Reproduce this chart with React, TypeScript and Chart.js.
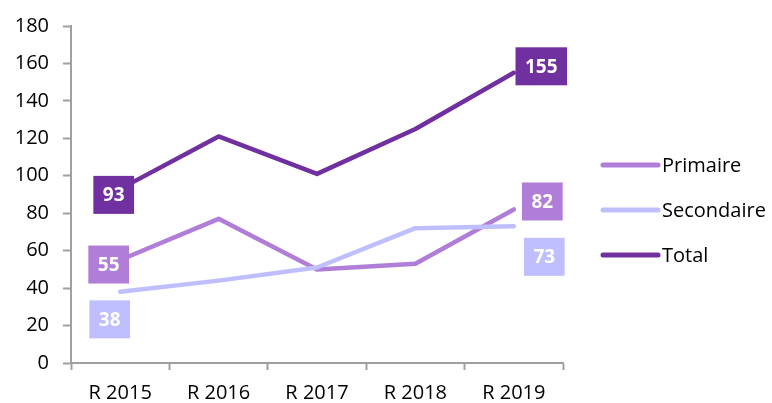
import React, { useEffect, useRef } from "react";
import { Chart, registerables } from "chart.js";

Chart.register(...registerables);

const categories = ["R 2015", "R 2016", "R 2017", "R 2018", "R 2019"];
const primaire = [55, 77, 50, 53, 82];
const secondaire = [38, 44, 51, 72, 73];
const total = [93, 121, 101, 125, 155];
const yTicks = { min: 0, max: 180, step: 20 };

const seriesNames = ["Primaire", "Secondaire", "Total"];
const seriesColors = ["#B07ED8", "#BFBFFF", "#7030A0"];

// label box offsets (first point, last point) relative to the point, px
const labelOffsets = [
  [[-11.5, 4.5], [28.5, -8]],
  [[-10.5, 27.5], [30.5, 30.5]],
  [[-6.5, 6], [27.5, -6.5]],
];

const FONT = '"Open Sans", "Noto Sans", sans-serif';

const boxLabels = {
  id: "boxLabels",
  afterDatasetsDraw(chart: any) {
    const ctx = chart.ctx;
    ctx.save();
    chart.data.datasets.forEach((ds: any, di: number) => {
      const meta = chart.getDatasetMeta(di);
      const idxs = [0, ds.data.length - 1];
      idxs.forEach((idx, k) => {
        const pt = meta.data[idx];
        const [dx, dy] = labelOffsets[di][k];
        const text = String(ds.data[idx]);
        ctx.font = "bold 19px " + FONT;
        const tw = ctx.measureText(text).width;
        const w = tw + 19;
        const h = 38;
        const cx = pt.x + dx;
        const cy = pt.y + dy;
        ctx.fillStyle = ds.borderColor;
        ctx.fillRect(cx - w / 2, cy - h / 2, w, h);
        ctx.fillStyle = "#ffffff";
        ctx.textAlign = "center";
        ctx.textBaseline = "middle";
        ctx.fillText(text, cx, cy + 1);
      });
    });
    ctx.restore();
  },
};

const customLegend = {
  id: "customLegend",
  afterDraw(chart: any) {
    const ctx = chart.ctx;
    ctx.save();
    const x0 = chart.chartArea.right + 40;
    const rows = [165, 210, 255];
    seriesNames.forEach((name, i) => {
      const y = rows[i];
      ctx.strokeStyle = seriesColors[i];
      ctx.lineWidth = 5;
      ctx.lineCap = "round";
      ctx.beginPath();
      ctx.moveTo(x0, y);
      ctx.lineTo(x0 + 55, y);
      ctx.stroke();
      ctx.fillStyle = "#000000";
      ctx.font = "20px " + FONT;
      ctx.textAlign = "left";
      ctx.textBaseline = "middle";
      ctx.fillText(name, x0 + 59, y + 1);
    });
    ctx.restore();
  },
};

export default function App() {
  const ref = useRef<HTMLCanvasElement>(null);
  useEffect(() => {
    if (!ref.current) return;
    const data = [primaire, secondaire, total];
    const chart = new Chart(ref.current, {
      type: "line",
      data: {
        labels: categories,
        datasets: seriesNames.map((n, i) => ({
          label: n,
          data: data[i],
          borderColor: seriesColors[i],
          backgroundColor: seriesColors[i],
          borderWidth: 4.5,
          borderCapStyle: "round",
          borderJoinStyle: "round",
          pointRadius: 0,
          tension: 0,
          fill: false,
          order: 3 - i,
        })),
      },
      options: {
        animation: false,
        responsive: false,
        layout: { padding: { left: 0, right: 209, top: 24, bottom: 0 } },
        plugins: { legend: { display: false }, tooltip: { enabled: false } },
        scales: {
          x: {
            offset: true,
            grid: {
              offset: true,
              drawOnChartArea: false,
              drawTicks: true,
              tickLength: 7,
              tickWidth: 2,
              tickColor: "#A0A0A0",
            },
            border: { color: "#A0A0A0", width: 2 },
            ticks: { color: "#000", font: { family: FONT, size: 20 }, padding: 11, maxRotation: 0 },
            afterFit(scale: any) {
              scale.height = 40;
            },
          },
          y: {
            min: yTicks.min,
            max: yTicks.max,
            grid: {
              drawOnChartArea: false,
              drawTicks: true,
              tickLength: 8,
              tickWidth: 2,
              tickColor: "#A0A0A0",
            },
            border: { color: "#A0A0A0", width: 2 },
            ticks: { stepSize: yTicks.step, color: "#000", font: { family: FONT, size: 20 }, padding: 14 },
            afterFit(scale: any) {
              scale.width = 71;
            },
          },
        },
      },
      plugins: [boxLabels, customLegend],
    });
    return () => chart.destroy();
  }, []);
  return (
    <div style={{ position: "absolute", left: 0, top: 0, width: 772, height: 403, background: "#fff" }}>
      <canvas ref={ref} width={772} height={403} />
    </div>
  );
}
